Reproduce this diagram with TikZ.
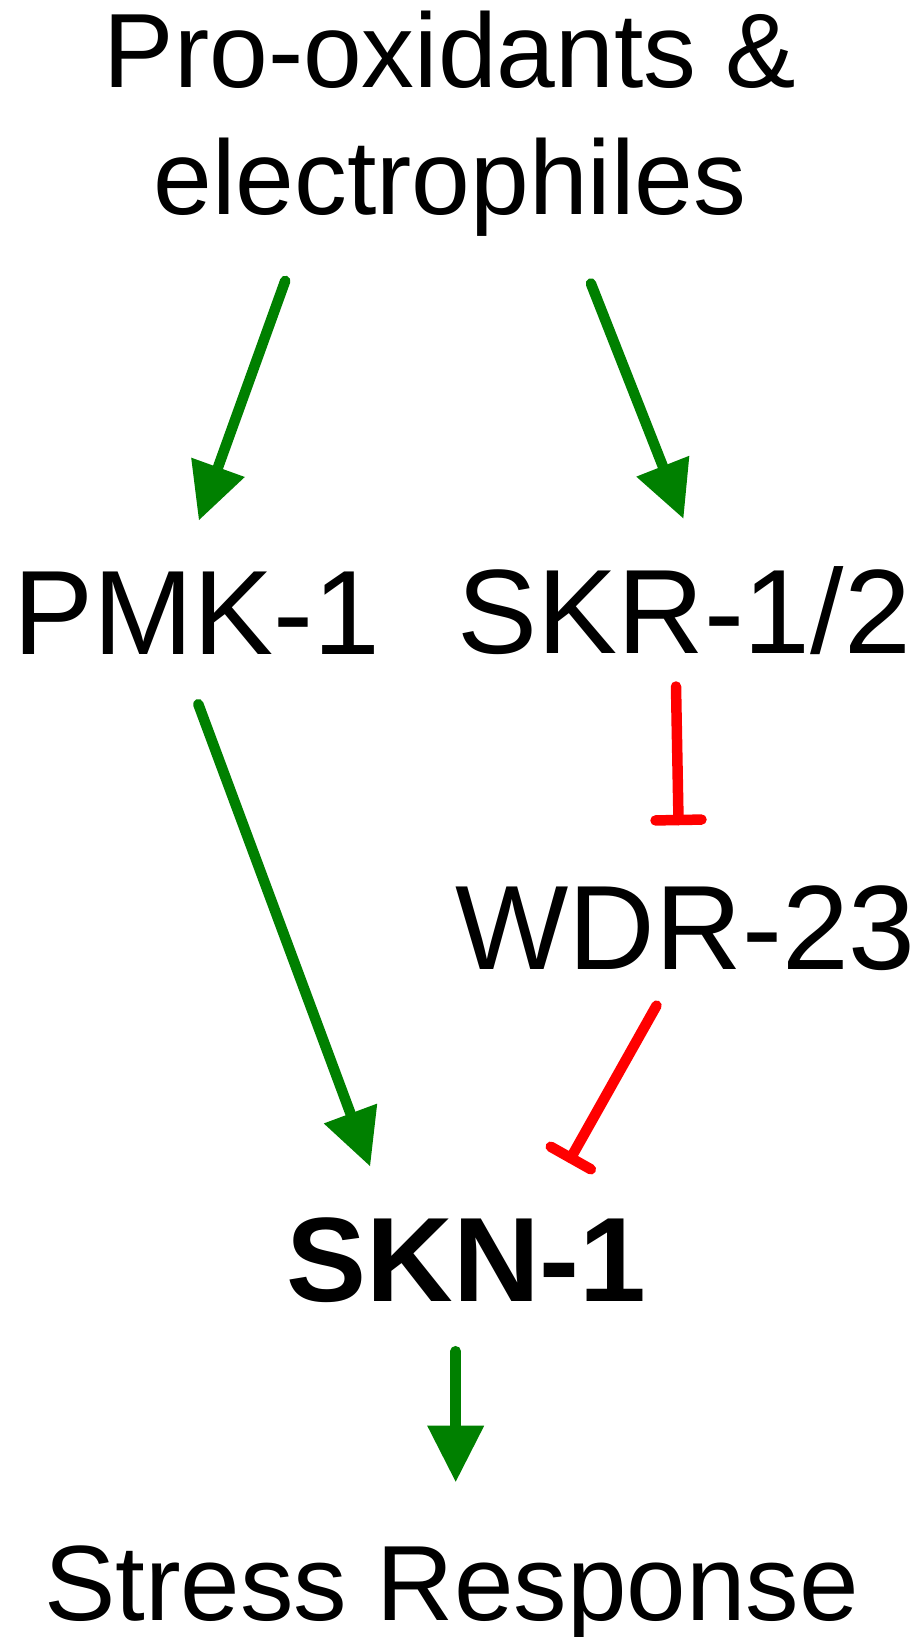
\documentclass[tikz,border=0pt]{standalone}
\usepackage{fontspec}
\setmainfont{Liberation Sans}
\usetikzlibrary{arrows.meta,calc}
\definecolor{actgreen}{RGB}{0,128,0}
\definecolor{inhred}{RGB}{255,0,0}
\begin{document}
\begin{tikzpicture}[x=1pt,y=-1pt,
  lbl/.style={inner sep=0pt, outer sep=0pt, anchor=base west, text=black},
  topfont/.style={font=\fontsize{105.6pt}{128pt}\selectfont},
  midfont/.style={font=\fontsize{120pt}{140pt}\selectfont},
  act/.style={draw=actgreen, line width=10.5pt, line cap=round,
    -{Triangle[length=56pt,width=57pt,line width=0pt]}},
  inh/.style={draw=inhred, line width=10.5pt, line cap=round}]
\fill[white] (0,0) rectangle (918,1637);
\useasboundingbox (0,0) rectangle (918,1637);

% labels
\node[lbl,topfont,anchor=base] (pro) at (450,87.3) {Pro-oxidants \&};
\node[lbl,topfont,anchor=base] (elec) at (450,215) {electrophiles};
\node[lbl,midfont] (pmk) at (13.4,654) {PMK-1};
\node[lbl,midfont] (skr) at (457.3,653.3) {SKR-1/2};
\node[lbl,midfont] (wdr) at (455.6,969.3) {WDR-23};
\node[lbl,midfont,font=\fontsize{120pt}{140pt}\selectfont\bfseries] (skn) at (286.5,1301.7) {SKN-1};
\node[lbl,font=\fontsize{107pt}{128pt}\selectfont] (stress) at (44,1620) {Stress Response};

% connector end points
\coordinate (a1s) at (285.2,280.9);
\coordinate (a1e) at (199,520);
\coordinate (a2s) at (590.9,283.5);
\coordinate (a2e) at (683.3,518.3);
\coordinate (a3s) at (198.3,704.2);
\coordinate (a3e) at (370,1166);
\coordinate (a4s) at (455.7,1351.2);
\coordinate (a4e) at (455.7,1481.7);
\coordinate (i1s) at (676,686.5);
\coordinate (i1e) at (678.5,820);
\coordinate (i2s) at (656.5,1005.6);
\coordinate (i2e) at (570.8,1158);

% activation arrows
\draw[act] (a1s) -- (a1e);
\draw[act] (a2s) -- (a2e);
\draw[act] (a3s) -- (a3e);
\draw[act] (a4s) -- (a4e);

% inhibition connectors
\draw[inh] (i1s) -- (i1e);
\draw[inh] ($(i1e)!23pt!90:(i1s)$) -- ($(i1e)!23pt!-90:(i1s)$);
\draw[inh] (i2s) -- (i2e);
\draw[inh] ($(i2e)!23pt!90:(i2s)$) -- ($(i2e)!23pt!-90:(i2s)$);
\end{tikzpicture}
\end{document}
